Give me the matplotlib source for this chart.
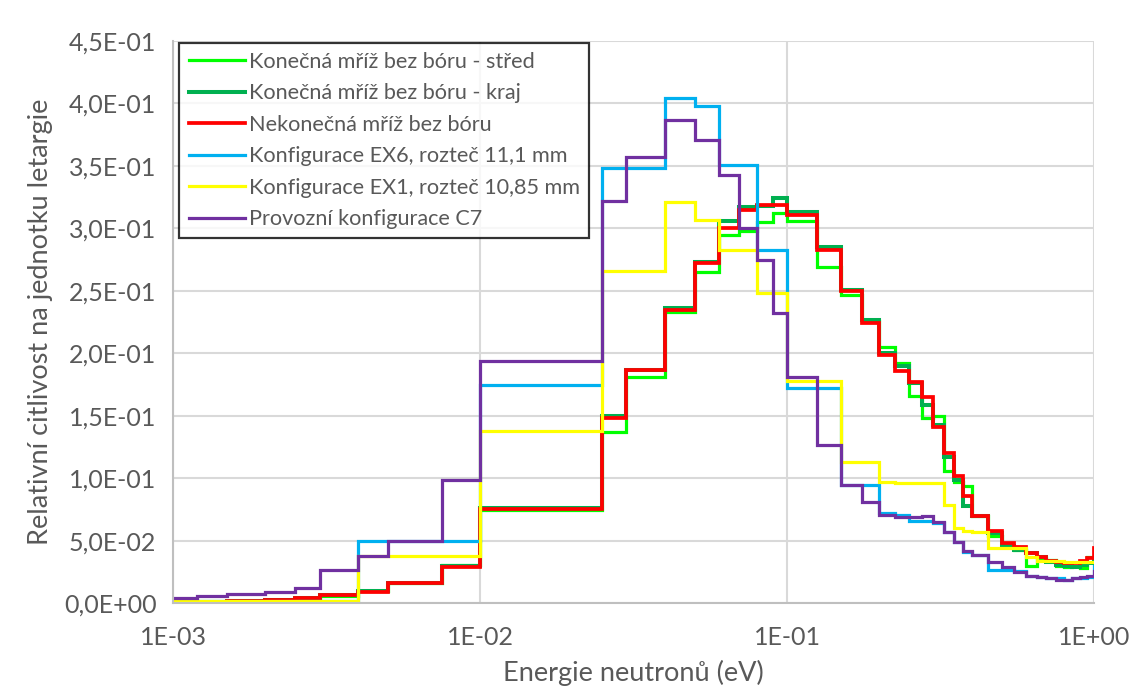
import numpy as np
import matplotlib
matplotlib.use('Agg')
import matplotlib.pyplot as plt

plt.rcParams['font.family'] = ['Lato', 'DejaVu Sans']

# bin edges (eV), last bin runs past the axis end
edges = [0.001, 0.0012, 0.0015, 0.002, 0.0025, 0.003, 0.004, 0.005, 0.0075, 0.01,
         0.025, 0.03, 0.04, 0.05, 0.06, 0.07, 0.08, 0.09, 0.1, 0.125, 0.15, 0.175,
         0.2, 0.225, 0.25, 0.275, 0.3, 0.325, 0.35, 0.375, 0.4, 0.45, 0.5, 0.55,
         0.6, 0.65, 0.7, 0.75, 0.8, 0.85, 0.9, 0.95, 1.0, 1.2]

stred = [0.0003, 0.0005, 0.0008, 0.0018, 0.0028, 0.0055, 0.010, 0.016, 0.031, 0.0745,
         0.137, 0.181, 0.233, 0.265, 0.295, 0.298, 0.305, 0.312, 0.306, 0.269, 0.247,
         0.226, 0.205, 0.192, 0.166, 0.148, 0.150, 0.106, 0.097, 0.094, 0.070, 0.054,
         0.046, 0.043, 0.030, 0.036, 0.035, 0.030, 0.029, 0.030, 0.028, 0.037, 0.033]
kraj = [0.0005, 0.001, 0.0015, 0.003, 0.004, 0.007, 0.0095, 0.0165, 0.030, 0.076,
        0.150, 0.187, 0.236, 0.273, 0.306, 0.317, 0.318, 0.324, 0.313, 0.285, 0.251,
        0.227, 0.200, 0.190, 0.176, 0.159, 0.143, 0.117, 0.099, 0.078, 0.070, 0.056,
        0.046, 0.043, 0.040, 0.037, 0.033, 0.031, 0.030, 0.029, 0.031, 0.032, 0.034]
nekonecna = [0.0005, 0.001, 0.0015, 0.003, 0.004, 0.0065, 0.009, 0.016, 0.029, 0.0755,
             0.148, 0.187, 0.235, 0.272, 0.300, 0.315, 0.319, 0.319, 0.311, 0.283, 0.250,
             0.224, 0.199, 0.186, 0.177, 0.165, 0.141, 0.120, 0.102, 0.086, 0.070, 0.058,
             0.048, 0.045, 0.040, 0.037, 0.034, 0.033, 0.032, 0.032, 0.034, 0.036, 0.044]
ex6 = [0.002, 0.002, 0.002, 0.002, 0.002, 0.002, 0.0495, 0.0495, 0.0495, 0.175,
       0.348, 0.348, 0.404, 0.398, 0.351, 0.351, 0.283, 0.283, 0.172, 0.172, 0.095,
       0.095, 0.072, 0.071, 0.066, 0.066, 0.064, 0.057, 0.049, 0.041, 0.039, 0.027,
       0.027, 0.026, 0.022, 0.021, 0.020, 0.020, 0.019, 0.020, 0.020, 0.021, 0.030]
ex1 = [0.0015, 0.0015, 0.0015, 0.0015, 0.0015, 0.0015, 0.038, 0.038, 0.038, 0.138,
       0.266, 0.266, 0.321, 0.307, 0.283, 0.283, 0.248, 0.248, 0.178, 0.178, 0.113,
       0.113, 0.097, 0.096, 0.096, 0.096, 0.096, 0.079, 0.060, 0.058, 0.057, 0.044,
       0.044, 0.044, 0.037, 0.034, 0.034, 0.034, 0.033, 0.033, 0.033, 0.033, 0.033]
c7 = [0.0045, 0.006, 0.0075, 0.0092, 0.012, 0.027, 0.038, 0.050, 0.099, 0.194,
      0.322, 0.357, 0.387, 0.371, 0.343, 0.300, 0.275, 0.232, 0.181, 0.127, 0.095,
      0.081, 0.071, 0.069, 0.069, 0.070, 0.065, 0.057, 0.049, 0.042, 0.039, 0.033,
      0.029, 0.025, 0.022, 0.021, 0.020, 0.019, 0.019, 0.020, 0.021, 0.022, 0.026]

series = [
    (stred, '#00FF00', 2.3, 'Konečná mříž bez bóru - střed'),
    (kraj, '#00B050', 2.9, 'Konečná mříž bez bóru - kraj'),
    (nekonecna, '#FF0000', 2.7, 'Nekonečná mříž bez bóru'),
    (ex6, '#00B0F0', 2.3, 'Konfigurace EX6, rozteč 11,1 mm'),
    (ex1, '#FFFF00', 2.3, 'Konfigurace EX1, rozteč 10,85 mm'),
    (c7, '#7030A0', 2.3, 'Provozní konfigurace C7'),
]

fig = plt.figure(figsize=(11.34, 6.89), dpi=100)
ax = fig.add_axes([0.1526, 0.1244, 0.8121, 0.8161])

for vals, col, lw, lab in series:
    ax.stairs(vals, edges, baseline=None, color=col, linewidth=lw, label=lab)

ax.set_xscale('log')
ax.set_xlim(1e-3, 1.0)
ax.set_ylim(0, 0.45)
ax.set_xticks([1e-3, 1e-2, 1e-1, 1.0])
ax.set_xticklabels(['1E-03', '1E-02', '1E-01', '1E+00'])
ax.xaxis.set_minor_locator(matplotlib.ticker.NullLocator())
yt = np.arange(0, 0.451, 0.05)
ax.set_yticks(yt)
ax.set_yticklabels([('%.1E' % v).replace('.', ',') for v in yt])

ax.grid(True, color='#d9d9d9', linewidth=1.5)
ax.set_axisbelow(True)
for s in ['top', 'right']:
    ax.spines[s].set_visible(False)
for s in ['left', 'bottom']:
    ax.spines[s].set_color('#bfbfbf')
    ax.spines[s].set_linewidth(1.5)
ax.tick_params(length=0, labelsize=18, labelcolor='#595959')
ax.tick_params(axis='x', pad=16)
ax.tick_params(axis='y', pad=12)

ax.set_xlabel('Energie neutronů (eV)', fontsize=19.5, color='#595959', labelpad=8)
ax.set_ylabel('Relativní citlivost na jednotku letargie', fontsize=19.5, color='#595959', labelpad=8)

leg = ax.legend(loc='upper left', bbox_to_anchor=(0.007, 0.997), borderaxespad=0,
                fontsize=15.6, frameon=True, fancybox=False, handlelength=2.6,
                labelspacing=0.53, handletextpad=0.2, borderpad=0.42)
leg.get_frame().set_edgecolor('black')
leg.get_frame().set_linewidth(1.6)
for t in leg.get_texts():
    t.set_color('#595959')

plt.savefig('out.png', dpi=100)
